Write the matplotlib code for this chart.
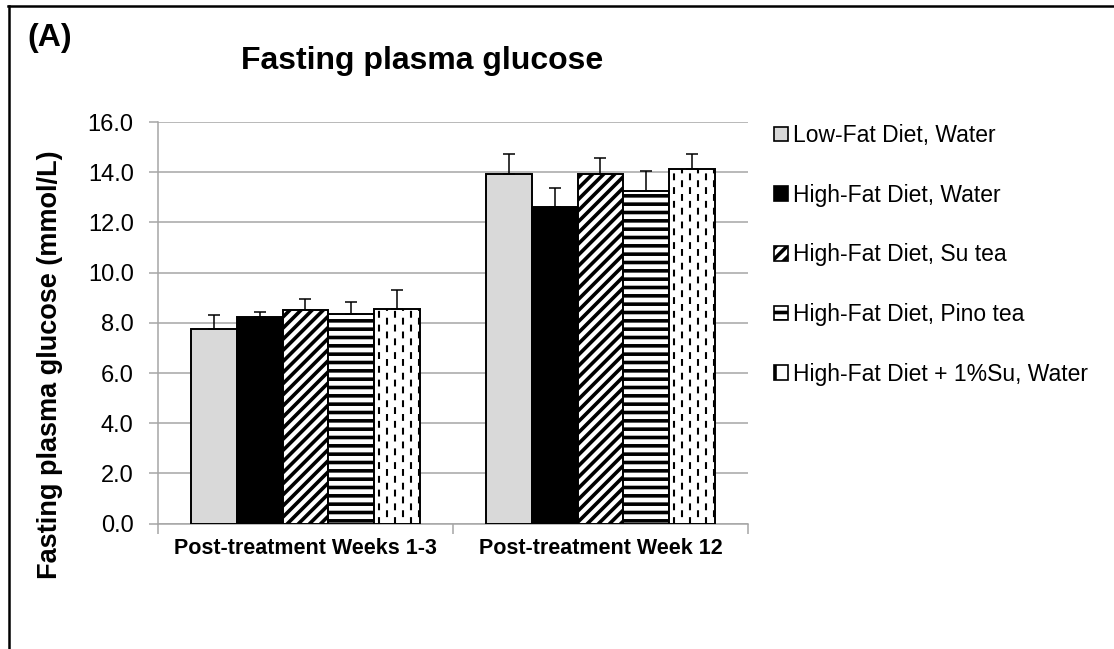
import numpy as np
import matplotlib
matplotlib.use("Agg")
import matplotlib.pyplot as plt
from matplotlib.patches import Patch
from matplotlib.lines import Line2D

plt.rcParams['font.family'] = ['Liberation Sans', 'DejaVu Sans']
plt.rcParams['hatch.linewidth'] = 2.6

groups = ['Post-treatment Weeks 1-3', 'Post-treatment Week 12']
series = ['Low-Fat Diet, Water', 'High-Fat Diet, Water', 'High-Fat Diet, Su tea',
          'High-Fat Diet, Pino tea', 'High-Fat Diet + 1%Su, Water']
weeks_1_3 = [7.74, 8.25, 8.51, 8.35, 8.54]
week_12 = [13.92, 12.61, 13.94, 13.25, 14.12]
err_1_3 = [0.59, 0.17, 0.43, 0.48, 0.78]
err_12 = [0.80, 0.76, 0.64, 0.81, 0.60]
yticks = np.arange(0, 16.1, 2)

means = np.array([weeks_1_3, week_12]).T
errs = np.array([err_1_3, err_12]).T

faces = ['#d9d9d9', 'black', 'white', 'white', 'white']
hatches = [None, None, '///', '--', None]
grid_c = '#a6a6a6'

fig = plt.figure(figsize=(11.14, 6.49), dpi=100)
ax = fig.add_axes([0.1418, 0.1931, 0.5296, 0.6189])

x = np.arange(len(groups))
w = 0.1547
bars = []
for i in range(len(series)):
    pos = x + (i - 2) * w
    b = ax.bar(pos, means[i], w, color=faces[i], edgecolor='black', linewidth=1.4,
               hatch=hatches[i], zorder=3)
    ax.errorbar(pos, means[i], yerr=[np.zeros(len(groups)), errs[i]], fmt='none',
                ecolor='black', elinewidth=1.1, capsize=4.3, capthick=1.1, zorder=4)
    bars.append(b)

# dashed vertical pattern for last series
step = 8 / 294.8
for rect in bars[4]:
    x0 = rect.get_x()
    h = rect.get_height()
    for k in range(6):
        xx = x0 + step * (0.6 + k)
        if xx >= x0 + rect.get_width():
            break
        off = 0 if k % 2 == 0 else 3.3
        ln = ax.plot([xx, xx], [0, h], color='black', lw=1.5,
                     linestyle=(off, (3.3, 3.3)), zorder=3.5)[0]
        ln.set_clip_path(rect)

ax.set_xlim(-0.5, 1.5)
ax.set_ylim(0, 16)
ax.set_yticks(yticks)
ax.set_yticklabels(['%.1f' % v for v in yticks], fontsize=17)
ax.set_xticks(x)
ax.set_xticklabels(groups, fontsize=15.5, fontweight='bold')
ax.set_xticks([-0.5, 0.5, 1.5], minor=True)
ax.tick_params(axis='x', which='major', length=0, pad=10)
ax.tick_params(axis='x', which='minor', length=7, color=grid_c, width=1.1)
ax.tick_params(axis='y', length=6.5, color=grid_c, width=1.1, pad=11)
ax.yaxis.grid(True, color=grid_c, linewidth=1.1, zorder=0)
ax.set_axisbelow(True)
for s in ['top', 'right']:
    ax.spines[s].set_visible(False)
for s in ['left', 'bottom']:
    ax.spines[s].set_color(grid_c)
    ax.spines[s].set_linewidth(1.1)

fig.text(422 / 1114, 1 - 61 / 649, 'Fasting plasma glucose', fontsize=23,
         fontweight='bold', ha='center', va='center')
fig.text(27 / 1114, 1 - 38 / 649, '(A)', fontsize=23, fontweight='bold',
         ha='left', va='center')
fig.text(50 / 1114, 1 - 365 / 649, 'Fasting plasma glucose (mmol/L)', fontsize=19.5,
         fontweight='bold', rotation=90, ha='center', va='center')

handles = [Patch(facecolor=faces[i], edgecolor='black', linewidth=1.2,
                 hatch=hatches[i] if i != 4 else '|') for i in range(len(series))]
fig.legend(handles, series, loc='upper left', bbox_to_anchor=(774 / 1114, 1 - 124 / 649),
           frameon=False, fontsize=16.5, handlelength=0.6, handleheight=0.6,
           handletextpad=0.25, labelspacing=1.6, borderpad=0, borderaxespad=0)

# outer frame (top and left edges)
fig.add_artist(Line2D([8 / 1114, 1], [1 - 6 / 649, 1 - 6 / 649], color='black', lw=1.8))
fig.add_artist(Line2D([9 / 1114, 9 / 1114], [0, 1 - 6 / 649], color='black', lw=1.8))

fig.savefig('out.png', dpi=100)
